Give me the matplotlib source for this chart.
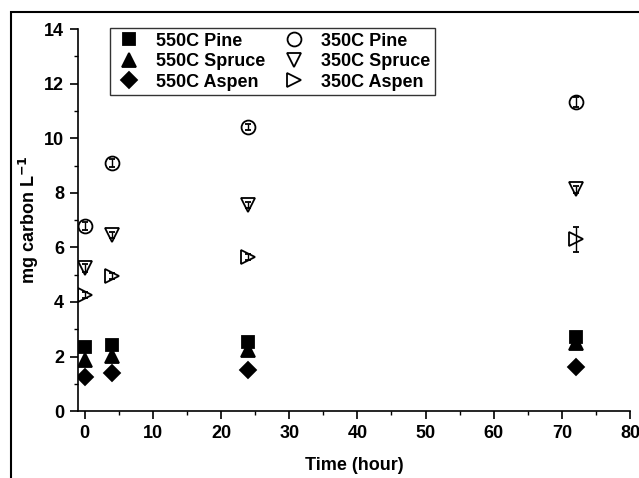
import matplotlib.pyplot as plt
from matplotlib.patches import Rectangle
from matplotlib.ticker import MultipleLocator

plt.rcParams['font.family'] = ['Liberation Sans', 'DejaVu Sans']
plt.rcParams['font.weight'] = 'bold'
plt.rcParams['mathtext.default'] = 'bf'

time_h = [0, 4, 24, 72]

# 550C series (filled markers)
pine_550 = [2.36, 2.44, 2.54, 2.72]
spruce_550 = [1.87, 2.02, 2.24, 2.48]
aspen_550 = [1.26, 1.38, 1.50, 1.62]
pine_550_err = [0.05, 0.05, 0.05, 0.1]
spruce_550_err = [0.05, 0.05, 0.05, 0.05]
aspen_550_err = [0.05, 0.05, 0.05, 0.05]

# 350C series (open markers)
pine_350 = [6.78, 9.10, 10.41, 11.33]
spruce_350 = [5.23, 6.45, 7.55, 8.13]
aspen_350 = [4.25, 4.95, 5.65, 6.29]
pine_350_err = [0.15, 0.15, 0.1, 0.18]
spruce_350_err = [0.15, 0.12, 0.1, 0.12]
aspen_350_err = [0.12, 0.12, 0.12, 0.45]

series = [
    ("550C Pine", pine_550, pine_550_err, "s", "black", 9),
    ("550C Spruce", spruce_550, spruce_550_err, "^", "black", 10),
    ("550C Aspen", aspen_550, aspen_550_err, "D", "black", 8.5),
    ("350C Pine", pine_350, pine_350_err, "o", "none", 10),
    ("350C Spruce", spruce_350, spruce_350_err, "v", "none", 10.5),
    ("350C Aspen", aspen_350, aspen_350_err, ">", "none", 10.5),
]

fig = plt.figure(figsize=(6.39, 4.78), dpi=100)
ax = fig.add_axes([0.122, 0.140, 0.864, 0.799])

for label, vals, err, mk, fc, ms in series:
    ax.errorbar(time_h, vals, yerr=err, fmt=mk, mfc=fc, mec="black", ms=ms,
                mew=1.3, ecolor="black", elinewidth=1, capsize=2.5,
                label=label, zorder=3)

ax.set_xlim(-1, 80)
ax.set_ylim(0, 14)
ax.xaxis.set_major_locator(MultipleLocator(10))
ax.xaxis.set_minor_locator(MultipleLocator(5))
ax.yaxis.set_major_locator(MultipleLocator(2))
ax.yaxis.set_minor_locator(MultipleLocator(1))
ax.spines['top'].set_visible(False)
ax.spines['right'].set_visible(False)
for s in ('left', 'bottom'):
    ax.spines[s].set_linewidth(1.2)
ax.tick_params(which='major', direction='out', length=6, width=1.2,
               labelsize=13, pad=4)
ax.tick_params(which='minor', direction='out', length=3, width=1.0)
for lbl in ax.get_xticklabels() + ax.get_yticklabels():
    lbl.set_fontweight('bold')

ax.set_xlabel("Time (hour)", fontsize=13, fontweight='bold', labelpad=11)
ax.set_ylabel("mg carbon L$^{-1}$", fontsize=13, fontweight='bold', labelpad=2)

handles, labels = ax.get_legend_handles_labels()
handles = [h[0] for h in handles]
leg = ax.legend(handles, labels, ncol=2, loc='upper left',
                bbox_to_anchor=(0.058, 1.003), borderaxespad=0,
                frameon=True, fancybox=False, edgecolor='black',
                handletextpad=0.7, columnspacing=0.8, borderpad=0.25,
                labelspacing=0.2, handlelength=1.6,
                prop={'weight': 'bold', 'size': 13})
leg.get_frame().set_linewidth(1.0)

# outer frame around the figure
fig.patches.append(Rectangle((11 / 639, -0.1), 1.2, 1 - 12 / 478 + 0.1,
                             transform=fig.transFigure, fill=False,
                             edgecolor='black', linewidth=1.5))

fig.savefig("out.png", dpi=100)
